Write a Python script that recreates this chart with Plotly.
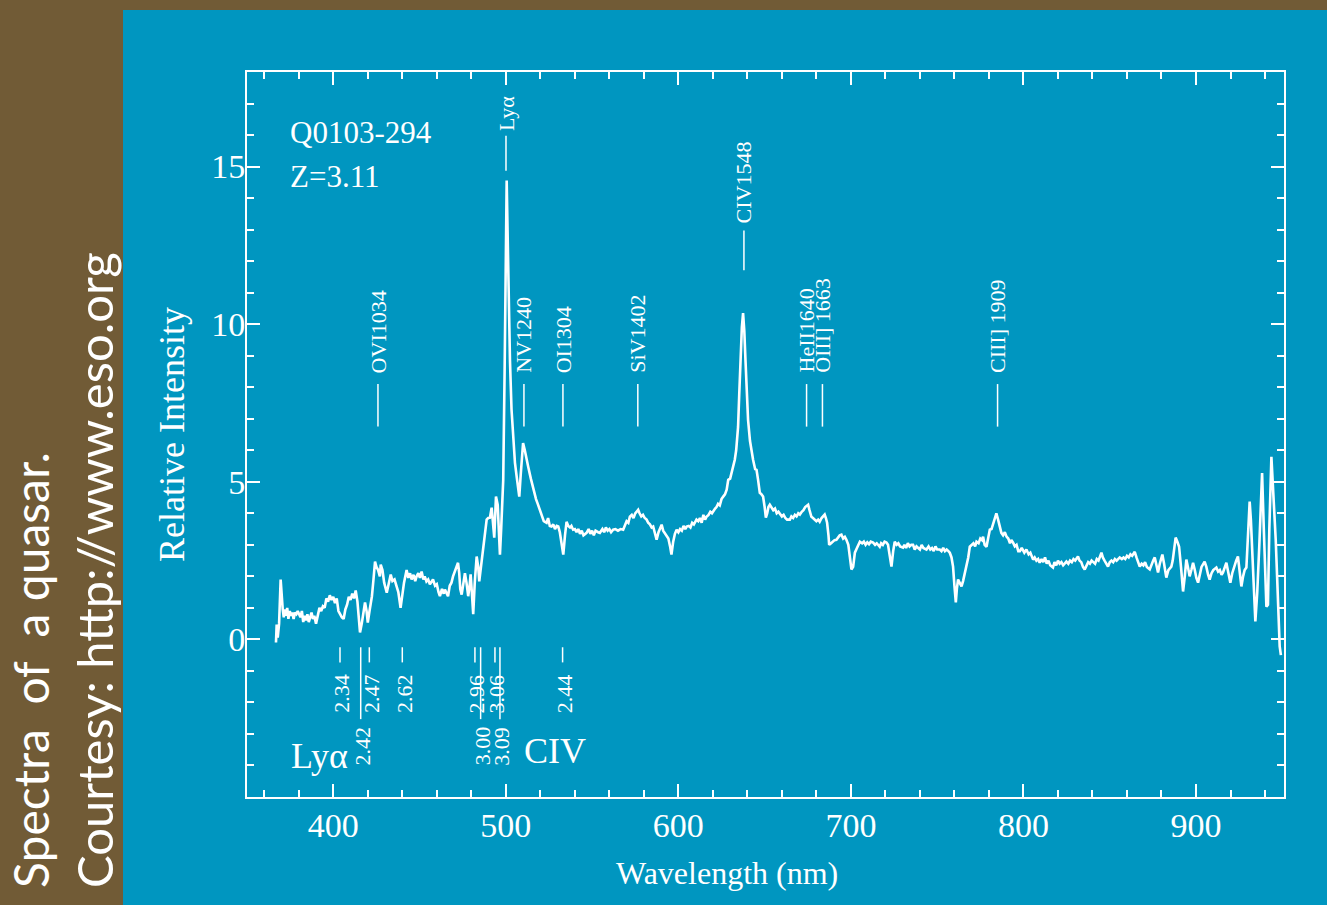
import plotly.graph_objects as go

# ---------------- data ----------------
wavelength = [366.8, 367.2, 367.8, 368.6, 369.5, 370.2, 370.7, 371.3, 372.0, 372.6, 373.3, 374.0, 374.8, 375.5,
              376.3, 377.0, 377.8, 378.6, 379.4, 380.2, 381.0, 381.8, 382.6, 383.4, 384.2, 385.0, 385.8, 386.6,
              387.4, 388.2, 389.0, 390.0, 391.0, 392.0, 393.0, 394.0, 395.0, 396.0, 397.0, 398.0, 399.0, 400.0,
              401.0, 402.0, 403.0, 404.0, 405.0, 406.0, 407.0, 408.0, 409.0, 410.0, 411.0, 412.0, 413.0, 414.0,
              414.8, 415.5, 416.5, 417.5, 418.4, 419.3, 420.0, 421.0, 422.4, 423.3, 424.2, 425.0, 426.0, 427.0,
              427.5, 428.5, 429.5, 431.0, 432.0, 433.3, 434.3, 435.5, 436.7, 437.7, 439.0, 440.0, 441.0, 442.5,
              443.5, 444.5, 445.4, 446.5, 447.5, 448.3, 449.3, 450.2, 451.2, 452.2, 453.0, 454.0, 455.0, 456.0,
              457.0, 457.8, 459.0, 460.0, 461.0, 461.8, 463.0, 464.0, 464.7, 465.5, 466.5, 467.5, 468.5, 469.4,
              470.5, 471.5, 472.3, 473.0, 473.6, 474.4, 475.3, 476.3, 477.2, 478.2, 479.0, 479.6, 480.3, 481.1,
              482.0, 483.1, 484.0, 484.6, 485.6, 486.6, 487.7, 488.9, 489.8, 490.8, 491.8, 492.5, 493.3, 494.3,
              495.3, 496.0, 496.6, 497.3, 498.5, 499.3, 500.0, 500.5, 501.0, 501.6, 502.4, 503.3, 504.3, 505.3,
              506.3, 507.8, 508.6, 509.3, 510.0, 511.0, 512.0, 513.0, 514.5, 515.9, 517.5, 518.5, 519.8, 521.0,
              522.0, 523.6, 524.5, 525.5, 526.5, 527.5, 528.5, 529.5, 530.4, 531.3, 532.3, 533.3, 534.3, 535.2,
              536.2, 537.2, 538.0, 539.0, 540.0, 541.0, 542.0, 543.0, 544.0, 545.0, 546.8, 548.0, 549.0, 550.0,
              551.0, 552.0, 553.5, 554.5, 556.0, 557.0, 558.0, 559.0, 560.0, 561.0, 562.2, 563.5, 565.0, 566.5,
              568.0, 569.0, 570.0, 571.0, 571.9, 573.0, 574.0, 575.0, 576.0, 576.7, 577.5, 578.5, 579.5, 580.5,
              581.6, 582.5, 583.5, 584.5, 585.4, 586.3, 587.4, 588.5, 589.5, 590.3, 591.2, 592.2, 593.2, 594.2,
              595.2, 596.0, 597.0, 598.0, 599.0, 600.0, 601.0, 602.0, 603.0, 604.0, 604.8, 606.0, 607.0, 608.0,
              609.0, 610.5, 611.5, 612.5, 613.5, 614.5, 615.5, 616.3, 617.5, 618.5, 619.5, 620.5, 621.3, 622.1,
              623.0, 624.0, 625.0, 626.0, 627.0, 628.0, 628.9, 630.0, 631.0, 632.0, 632.7, 633.5, 634.6, 635.3,
              636.0, 636.8, 637.5, 638.2, 638.9, 639.6, 640.4, 641.5, 642.5, 643.3, 644.5, 645.3, 646.2, 647.2,
              648.2, 649.1, 650.0, 650.7, 651.5, 652.2, 653.0, 654.0, 655.0, 656.0, 657.0, 658.0, 658.8, 660.0,
              661.0, 662.0, 663.0, 664.6, 665.5, 666.5, 667.5, 668.5, 669.5, 670.4, 671.5, 672.5, 673.5, 674.5,
              675.2, 676.0, 677.1, 678.0, 679.0, 680.0, 681.0, 681.9, 683.0, 684.0, 684.8, 685.5, 686.2, 687.0,
              687.4, 688.5, 689.5, 690.5, 691.6, 692.5, 693.5, 694.5, 695.5, 696.5, 697.4, 698.5, 699.5, 700.3,
              701.3, 702.3, 703.5, 705.2, 706.5, 707.5, 708.5, 709.5, 710.5, 711.5, 712.9, 714.0, 715.0, 716.7,
              717.5, 718.5, 719.5, 720.6, 721.5, 722.5, 723.5, 724.5, 725.4, 726.5, 727.5, 728.5, 730.2, 731.0,
              732.0, 733.0, 734.0, 735.0, 736.0, 737.0, 738.0, 739.0, 740.0, 741.0, 742.0, 743.8, 745.0, 746.0,
              747.0, 748.0, 749.0, 750.0, 751.5, 752.5, 753.5, 754.5, 755.5, 756.5, 757.3, 758.3, 759.2, 760.0,
              760.8, 761.4, 762.1, 763.0, 764.1, 765.0, 766.0, 767.0, 768.0, 768.9, 770.0, 771.0, 772.0, 772.8,
              774.0, 775.0, 776.0, 776.6, 777.5, 778.6, 779.5, 780.5, 781.5, 782.5, 783.5, 784.3, 785.3, 786.3,
              787.2, 788.2, 789.2, 790.2, 791.2, 792.2, 793.0, 794.0, 795.0, 796.0, 797.0, 797.9, 799.0, 800.5,
              801.7, 803.0, 804.0, 805.6, 806.5, 807.5, 808.5, 809.4, 810.5, 811.5, 812.5, 813.5, 814.5, 815.5,
              817.1, 818.0, 819.0, 820.0, 821.0, 822.0, 823.0, 824.9, 826.0, 827.0, 828.0, 829.0, 830.0, 831.6,
              832.5, 833.5, 834.5, 835.5, 836.5, 837.5, 838.5, 839.5, 840.5, 841.5, 842.5, 843.5, 845.2, 846.0,
              847.0, 848.0, 849.0, 850.0, 851.0, 852.0, 853.0, 854.0, 855.8, 857.0, 858.0, 859.0, 860.0, 861.0,
              862.0, 863.0, 864.5, 865.5, 866.5, 867.4, 868.5, 869.5, 870.5, 871.5, 873.2, 874.2, 875.2, 876.1,
              877.0, 878.0, 879.0, 880.5, 881.5, 882.8, 884.0, 885.7, 886.5, 887.2, 888.2, 889.2, 890.2, 891.3,
              892.5, 893.5, 894.4, 895.3, 896.3, 897.3, 898.3, 899.3, 900.2, 901.2, 902.2, 903.2, 905.0, 906.0,
              907.0, 907.9, 909.0, 910.0, 911.8, 912.8, 913.8, 914.8, 915.6, 916.6, 917.6, 918.8, 919.9, 921.0,
              922.0, 923.3, 924.3, 925.3, 926.3, 927.3, 928.2, 929.2, 930.2, 931.1, 931.8, 932.4, 933.4, 934.4,
              935.5, 936.7, 937.5, 938.3, 939.3, 940.2, 940.8, 941.7, 942.5, 943.7, 944.5, 945.3, 946.2, 947.0,
              947.8, 948.5, 949.2]

intensity = [-0.1, 0.47, 0.06, 0.5, 1.9, 1.2, 0.95, 0.7, 0.95, 0.75, 1.0, 0.65, 0.9, 0.75,
             0.85, 0.65, 0.85, 0.8, 0.9, 0.8, 0.7, 0.9, 0.55, 0.75, 0.6, 0.8, 0.55, 0.7,
             0.85, 0.65, 0.75, 0.5, 0.8, 1.0, 0.9, 1.05, 1.0, 1.3, 1.2, 1.4, 1.25, 1.35,
             1.15, 1.3, 0.9, 0.8, 0.7, 0.65, 0.95, 1.1, 1.35, 1.25, 1.45, 1.3, 1.55, 1.2,
             0.6, 0.22, 0.5, 0.95, 1.17, 0.9, 0.53, 0.9, 1.37, 1.9, 2.47, 2.3, 2.2, 2.0,
             2.37, 2.2, 1.8, 1.48, 1.75, 2.06, 1.85, 1.9, 1.68, 1.5, 1.0, 1.4, 1.8, 2.2,
             1.95, 2.1, 1.9, 2.05, 1.85, 2.0, 2.1, 1.95, 2.15, 1.9, 2.0, 1.84, 1.9, 1.75,
             1.85, 1.9, 1.7, 1.75, 1.5, 1.37, 1.6, 1.45, 1.58, 1.5, 1.37, 1.7, 1.8, 2.0,
             2.15, 2.3, 2.43, 2.1, 1.6, 1.42, 1.8, 2.1, 1.8, 1.37, 1.7, 2.06, 1.5, 0.8,
             1.8, 2.63, 2.3, 1.84, 2.3, 2.75, 3.3, 3.8, 3.85, 3.86, 4.18, 3.8, 3.23, 4.53,
             4.27, 3.4, 2.69, 3.5, 5.06, 8.5, 12.5, 14.56, 13.0, 11.0, 8.86, 7.3, 6.23, 5.6,
             5.16, 4.53, 5.2, 5.9, 6.23, 6.0, 5.7, 5.47, 5.1, 4.75, 4.45, 4.3, 4.11, 3.95,
             3.75, 3.7, 3.85, 3.6, 3.58, 3.65, 3.5, 3.6, 3.58, 3.4, 3.0, 2.69, 3.3, 3.73,
             3.6, 3.55, 3.6, 3.48, 3.5, 3.4, 3.5, 3.35, 3.45, 3.3, 3.38, 3.5, 3.35, 3.45,
             3.3, 3.45, 3.4, 3.38, 3.5, 3.4, 3.55, 3.45, 3.5, 3.4, 3.48, 3.5, 3.45, 3.5,
             3.48, 3.6, 3.75, 3.7, 3.89, 3.95, 3.85, 4.0, 4.05, 4.11, 4.0, 3.9, 3.95, 3.85,
             3.8, 3.7, 3.65, 3.55, 3.58, 3.4, 3.16, 3.4, 3.55, 3.64, 3.45, 3.35, 3.26, 3.2,
             2.95, 2.69, 3.1, 3.35, 3.48, 3.4, 3.5, 3.45, 3.6, 3.5, 3.58, 3.6, 3.55, 3.7,
             3.65, 3.8, 3.75, 3.85, 3.7, 3.95, 3.8, 3.89, 3.95, 4.05, 4.0, 4.1, 4.15, 4.2,
             4.3, 4.25, 4.45, 4.53, 4.6, 4.75, 5.06, 5.1, 5.35, 5.5, 5.7, 6.0, 6.74, 7.8,
             8.86, 9.9, 10.35, 9.8, 8.86, 7.9, 6.96, 6.3, 5.9, 5.7, 5.4, 5.38, 5.06, 4.65,
             4.6, 4.53, 4.2, 3.86, 4.0, 4.2, 4.27, 4.2, 4.1, 4.15, 4.0, 4.05, 4.0, 3.9,
             3.95, 3.85, 3.8, 3.8, 3.9, 3.85, 3.95, 3.9, 4.0, 3.96, 4.05, 4.1, 4.2, 4.25,
             4.27, 4.1, 3.89, 3.85, 3.8, 3.75, 3.8, 3.73, 3.85, 3.9, 3.96, 3.85, 3.7, 3.3,
             3.0, 3.05, 3.1, 3.15, 3.16, 3.25, 3.3, 3.32, 3.2, 3.25, 3.16, 3.0, 2.5, 2.22,
             2.3, 2.75, 2.9, 3.1, 3.05, 3.1, 3.0, 3.08, 3.02, 3.1, 3.07, 3.0, 3.05, 2.94,
             3.05, 3.0, 3.1, 3.07, 3.0, 2.7, 2.31, 2.8, 3.1, 3.0, 3.05, 2.95, 2.91, 3.0,
             2.9, 3.05, 2.95, 3.0, 3.0, 2.85, 2.95, 2.9, 2.85, 3.0, 2.9, 2.85, 2.95, 2.85,
             2.9, 2.8, 2.95, 2.85, 2.85, 2.8, 2.9, 2.8, 2.85, 2.8, 2.75, 2.6, 2.31, 1.7,
             1.17, 1.6, 1.9, 1.8, 1.68, 1.85, 2.1, 2.31, 2.6, 2.94, 3.0, 3.05, 2.95, 3.1,
             3.05, 3.2, 3.15, 3.26, 3.0, 2.94, 3.2, 3.48, 3.5, 3.7, 3.9, 4.0, 3.8, 3.55,
             3.38, 3.3, 3.4, 3.26, 3.2, 3.05, 3.15, 3.07, 2.95, 3.0, 2.8, 2.8, 2.9, 2.75,
             2.85, 2.7, 2.75, 2.53, 2.6, 2.5, 2.55, 2.43, 2.55, 2.45, 2.6, 2.4, 2.5, 2.35,
             2.28, 2.45, 2.35, 2.5, 2.4, 2.45, 2.35, 2.47, 2.4, 2.5, 2.45, 2.55, 2.5, 2.63,
             2.5, 2.45, 2.3, 2.22, 2.35, 2.45, 2.4, 2.5, 2.45, 2.4, 2.55, 2.5, 2.75, 2.6,
             2.5, 2.4, 2.31, 2.45, 2.5, 2.45, 2.55, 2.5, 2.6, 2.55, 2.6, 2.55, 2.65, 2.6,
             2.7, 2.65, 2.78, 2.6, 2.45, 2.31, 2.4, 2.35, 2.45, 2.3, 2.22, 2.4, 2.5, 2.6,
             2.35, 2.12, 2.4, 2.69, 2.4, 1.96, 2.2, 2.31, 2.5, 2.9, 3.23, 3.1, 2.94, 2.3,
             1.52, 2.0, 2.53, 2.3, 2.0, 2.2, 2.43, 2.2, 1.95, 1.8, 2.1, 2.3, 2.47, 2.3,
             2.05, 1.9, 2.1, 2.2, 2.28, 2.15, 2.2, 2.05, 2.12, 2.3, 2.43, 2.1, 1.8, 2.1,
             2.3, 2.5, 2.63, 2.2, 1.68, 2.0, 2.2, 2.28, 3.2, 4.37, 3.8, 3.16, 1.8, 0.57,
             1.5, 3.0, 4.5, 5.28, 3.5, 1.8, 1.04, 1.1, 3.5, 5.79, 5.0, 4.2, 3.16, 2.0,
             0.8, -0.22, -0.5]

x_ticks = [400, 500, 600, 700, 800, 900]
y_ticks = [0, 5, 10, 15]

emission_labels = ["OVI1034", "Lyα", "NV1240", "OI1304", "SiV1402", "CIV1548", "HeII1640", "OIII] 1663", "CIII] 1909"]
emission_wl = [425.9, 500.1, 510.5, 533.1, 576.5, 638.0, 674.3, 683.5, 785.0]

absorption_labels = ["2.34", "2.42", "2.47", "2.62", "2.96", "3.00", "3.06", "3.09", "2.44"]
absorption_wl = [403.9, 415.9, 420.9, 440.0, 482.1, 485.4, 493.7, 496.6, 532.9]
absorption_row = [1, 2, 1, 1, 1, 2, 1, 2, 1]

# ---------------- style ----------------
BLUE = "#0096C0"
BROWN = "#715B36"
WHITE = "#FFFFFF"
SERIF = "Liberation Serif, Times New Roman, serif"
SANS = "Lato, Open Sans, sans-serif"

fig = go.Figure()
fig.add_trace(go.Scatter(x=wavelength, y=intensity, mode="lines",
                         line=dict(color=WHITE, width=2.6), hoverinfo="skip", showlegend=False))

L, R, T, B = 247, 43, 72, 108
W, H = 1327, 905
pw, ph = W - L - R, H - T - B


def px_x(px):
    return (px - L) / pw


def px_y(py):
    return (H - B - py) / ph


shapes = []
# blue panel
shapes.append(dict(type="rect", xref="paper", yref="paper", x0=px_x(123), x1=px_x(W + 5),
                   y0=px_y(H + 5), y1=px_y(10), fillcolor=BLUE, line=dict(width=0), layer="below"))

annotations = []
# emission labels
for lab, wl in zip(emission_labels, emission_wl):
    if lab == "Lyα":
        lo, hi, ty = 14.87, 15.98, 16.08
    elif lab == "CIV1548":
        lo, hi, ty = 11.71, 12.97, 13.13
    else:
        lo, hi, ty = 6.75, 8.1, 8.39
    shapes.append(dict(type="line", xref="x", yref="y", x0=wl, x1=wl, y0=lo, y1=hi,
                       line=dict(color=WHITE, width=1.5)))
    annotations.append(dict(x=wl, y=ty, xref="x", yref="y", text=lab, textangle=-90, showarrow=False,
                            xanchor="center", yanchor="bottom", font=dict(family=SERIF, size=22, color=WHITE)))

# absorption redshift labels
for lab, wl, row in zip(absorption_labels, absorption_wl, absorption_row):
    lo = -0.73 if row == 1 else -2.53
    ty = -1.04 if row == 1 else -2.69
    shapes.append(dict(type="line", xref="x", yref="y", x0=wl, x1=wl, y0=-0.25, y1=lo,
                       line=dict(color=WHITE, width=1.5)))
    annotations.append(dict(x=wl, y=ty, xref="x", yref="y", text=lab, textangle=-90, showarrow=False,
                            xanchor="center", yanchor="top", xshift=2,
                            font=dict(family=SERIF, size=22, color=WHITE)))

annotations += [
    dict(x=392.3, y=-3.7, xref="x", yref="y", text="Lyα", showarrow=False,
         xanchor="center", yanchor="middle", font=dict(family=SERIF, size=36, color=WHITE)),
    dict(x=528.4, y=-3.54, xref="x", yref="y", text="CIV", showarrow=False,
         xanchor="center", yanchor="middle", font=dict(family=SERIF, size=36, color=WHITE)),
    dict(x=374.0, y=16.7, xref="x", yref="y", text="Q0103-294", showarrow=False, xanchor="left",
         yanchor="top", font=dict(family=SERIF, size=31, color=WHITE)),
    dict(x=374.0, y=15.3, xref="x", yref="y", text="Z=3.11", showarrow=False, xanchor="left",
         yanchor="top", font=dict(family=SERIF, size=31, color=WHITE)),
    dict(x=px_x(727), y=px_y(873), xref="paper", yref="paper", text="Wavelength (nm)", showarrow=False,
         xanchor="center", yanchor="middle", font=dict(family=SERIF, size=32, color=WHITE)),
    dict(x=px_x(172), y=px_y(435), xref="paper", yref="paper", text="Relative Intensity", showarrow=False,
         textangle=-90, xanchor="center", yanchor="middle", font=dict(family=SERIF, size=36, color=WHITE)),
    dict(x=px_x(30), y=px_y(890), xref="paper", yref="paper", text="Spectra\u00a0 of\u00a0 a quasar.",
         showarrow=False, textangle=-90, xanchor="center", yanchor="bottom",
         font=dict(family=SANS, size=48, color=WHITE)),
    dict(x=px_x(94), y=px_y(890), xref="paper", yref="paper", text="Courtesy: http://www.eso.org",
         showarrow=False, textangle=-90, xanchor="center", yanchor="bottom",
         font=dict(family=SANS, size=49, color=WHITE)),
]

axis_common = dict(showline=True, linecolor=WHITE, linewidth=2, mirror="allticks", ticks="inside",
                   tickcolor=WHITE, tickwidth=1.5, ticklen=13, showgrid=False, zeroline=False,
                   tickfont=dict(family=SERIF, size=34, color=WHITE))

fig.update_layout(
    width=W, height=H,
    margin=dict(l=L, r=R, t=T, b=B),
    paper_bgcolor=BROWN, plot_bgcolor=BLUE,
    shapes=shapes, annotations=annotations,
    xaxis=dict(range=[350, 951], tickvals=x_ticks, ticklabelstandoff=-3,
               minor=dict(dtick=20, tick0=0, ticks="inside", ticklen=7, tickcolor=WHITE, tickwidth=1.5),
               **axis_common),
    yaxis=dict(range=[-5, 18], tickvals=y_ticks, ticklabelstandoff=-7,
               minor=dict(dtick=1, tick0=0, ticks="inside", ticklen=7, tickcolor=WHITE, tickwidth=1.5),
               **axis_common),
)

fig.write_html("out.html", config={"displayModeBar": False},
               post_script="document.body.style.margin='0';document.body.style.overflow='hidden';")
